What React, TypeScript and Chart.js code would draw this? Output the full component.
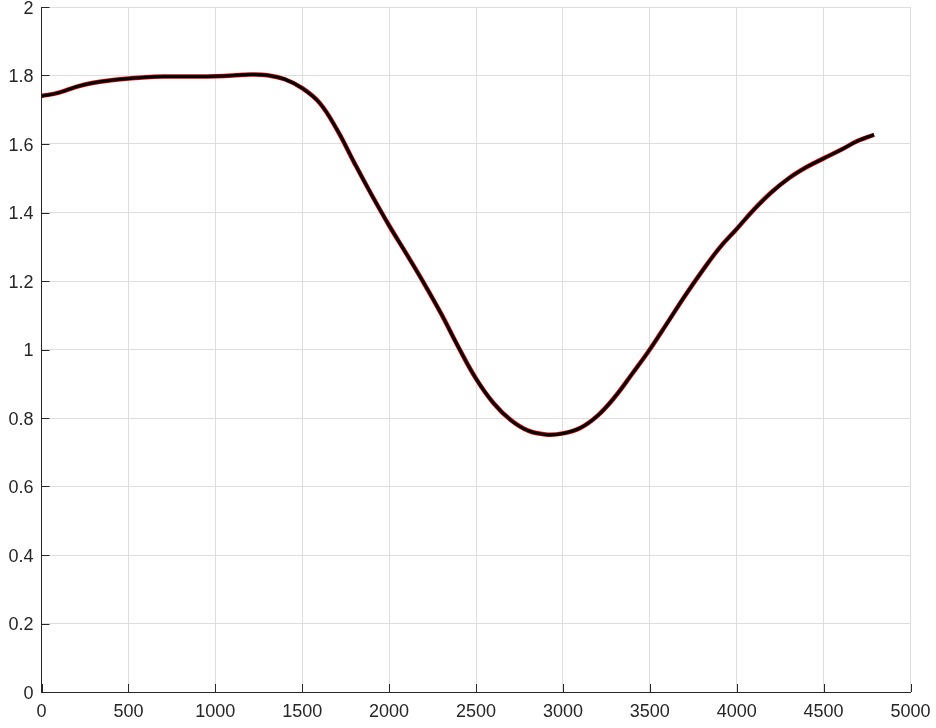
import React, { useEffect, useRef } from "react";
import { Chart, registerables } from "chart.js";

Chart.register(...registerables);

const xValues = [
  0, 100, 200, 300, 400, 500, 600, 700, 800, 900, 1000, 1100, 1200, 1300, 1400,
  1500, 1600, 1700, 1800, 1900, 2000, 2100, 2200, 2300, 2400, 2500, 2600, 2700,
  2800, 2900, 3000, 3100, 3200, 3300, 3400, 3500, 3600, 3700, 3800, 3900, 4000,
  4100, 4200, 4300, 4400, 4500, 4600, 4700, 4790,
];
const yValues = [
  1.74, 1.75, 1.767, 1.779, 1.786, 1.791, 1.795, 1.797, 1.797, 1.797, 1.798, 1.8,
  1.803, 1.801, 1.789, 1.763, 1.72, 1.642, 1.545, 1.451, 1.362, 1.279, 1.194,
  1.104, 1.006, 0.915, 0.844, 0.794, 0.763, 0.752, 0.755, 0.771, 0.807, 0.862,
  0.93, 1.0, 1.077, 1.155, 1.228, 1.296, 1.352, 1.409, 1.459, 1.5, 1.532, 1.558,
  1.583, 1.61, 1.627,
];
const xTickStep = 500;
const yTickStep = 0.2;

const AXIS_COLOR = "#262626";
const GRID_COLOR = "#dedede";
const FONT = { family: "'Liberation Sans', Arial, Helvetica, sans-serif", size: 18 };

const inwardTicks = {
  id: "inwardTicks",
  afterDraw(chart: any) {
    const { ctx, chartArea, scales } = chart;
    const len = 8;
    ctx.save();
    ctx.strokeStyle = AXIS_COLOR;
    ctx.lineWidth = 1;
    ctx.beginPath();
    scales.x.ticks.forEach((t: any) => {
      const px = Math.round(scales.x.getPixelForValue(t.value)) + 0.5;
      ctx.moveTo(px, chartArea.bottom);
      ctx.lineTo(px, chartArea.bottom - len);
    });
    scales.y.ticks.forEach((t: any) => {
      const py = Math.round(scales.y.getPixelForValue(t.value)) + 0.5;
      ctx.moveTo(chartArea.left, py);
      ctx.lineTo(chartArea.left + len, py);
    });
    ctx.stroke();
    ctx.restore();
  },
};

export default function App() {
  const ref = useRef<HTMLCanvasElement>(null);
  useEffect(() => {
    document.body.style.margin = "0";
    const points = xValues.map((x, i) => ({ x, y: yValues[i] }));
    const chart = new Chart(ref.current!, {
      type: "line",
      data: {
        datasets: [
          {
            data: points,
            borderColor: "#000000",
            borderWidth: 3,
            pointRadius: 0,
            tension: 0.4,
          },
          {
            data: points,
            borderColor: "#e00000",
            borderWidth: 4.5,
            pointRadius: 0,
            tension: 0.4,
          },
        ],
      },
      options: {
        animation: false,
        responsive: false,
        maintainAspectRatio: false,
        layout: { padding: { left: 0, top: 7, right: 25.5, bottom: 0 } },
        plugins: { legend: { display: false }, tooltip: { enabled: false } },
        scales: {
          x: {
            type: "linear",
            min: 0,
            max: 5000,
            afterFit: (s: any) => {
              s.height = 36;
              s.paddingLeft = 0;
              s.paddingRight = 0;
            },
            ticks: {
              stepSize: xTickStep,
              color: AXIS_COLOR,
              font: FONT,
              padding: 9,
              maxRotation: 0,
              autoSkip: false,
              callback: (v: any) => String(v),
            },
            grid: { color: GRID_COLOR, drawTicks: false },
            border: { color: AXIS_COLOR, width: 1 },
          },
          y: {
            type: "linear",
            min: 0,
            max: 2,
            afterFit: (s: any) => {
              s.width = 41.5;
              s.paddingTop = 0;
              s.paddingBottom = 0;
            },
            ticks: {
              stepSize: yTickStep,
              color: AXIS_COLOR,
              font: FONT,
              padding: 8,
              labelOffset: 2,
              callback: (v: any) => String(Number(Number(v).toFixed(1))),
            },
            grid: { color: GRID_COLOR, drawTicks: false },
            border: { color: AXIS_COLOR, width: 1 },
          },
        },
      },
      plugins: [inwardTicks],
    });
    return () => chart.destroy();
  }, []);
  return <canvas ref={ref} width={936} height={728} style={{ display: "block" }} />;
}
